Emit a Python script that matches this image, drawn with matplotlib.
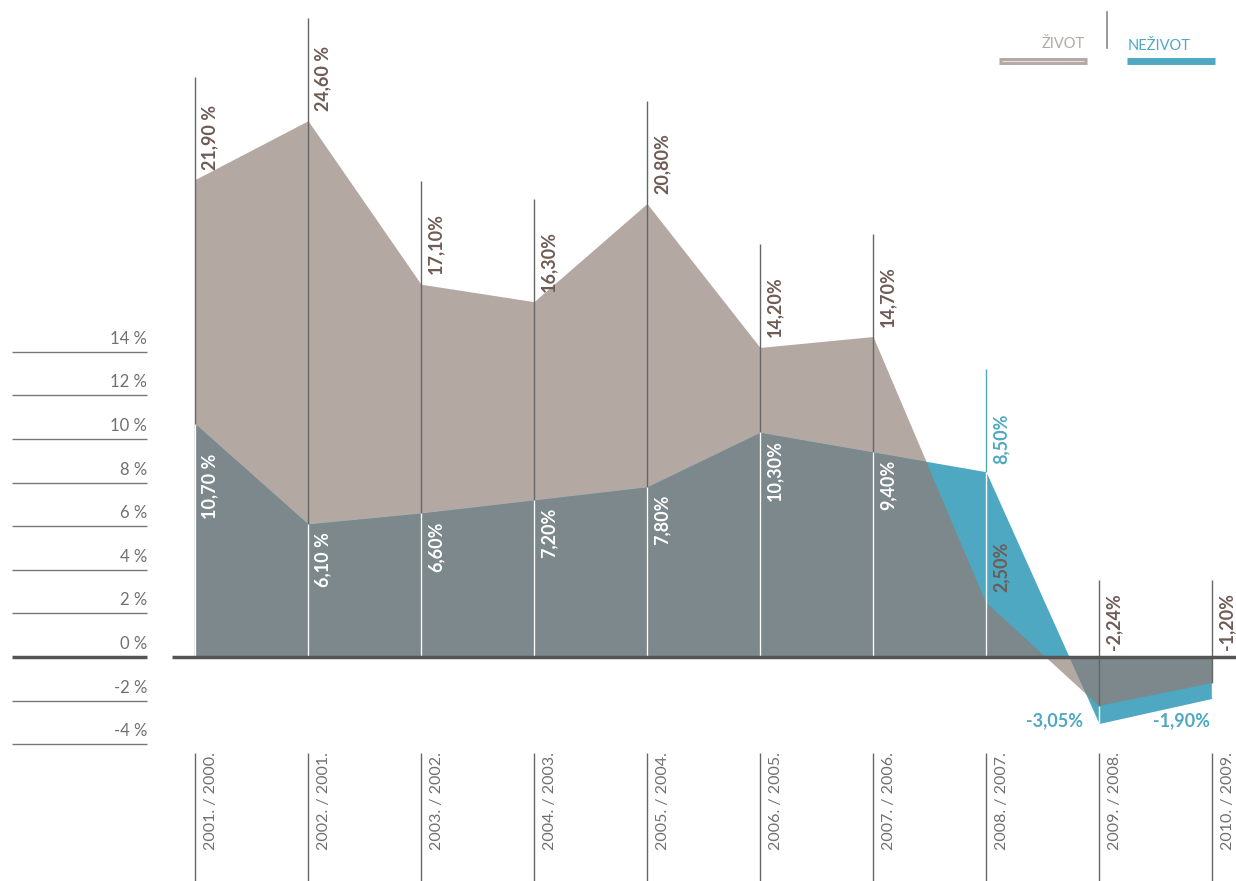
import numpy as np
import matplotlib as mpl
mpl.use('Agg')
import matplotlib.pyplot as plt

# data
years = ['2001. / 2000.', '2002. / 2001.', '2003. / 2002.', '2004. / 2003.',
         '2005. / 2004.', '2006. / 2005.', '2007. / 2006.', '2008. / 2007.',
         '2009. / 2008.', '2010. / 2009.']
zivot = [21.90, 24.60, 17.10, 16.30, 20.80, 14.20, 14.70, 2.50, -2.24, -1.20]
nezivot = [10.70, 6.10, 6.60, 7.20, 7.80, 10.30, 9.40, 8.50, -3.05, -1.90]
zivot_txt = ['21,90 %', '24,60 %', '17,10%', '16,30%', '20,80%', '14,20%',
             '14,70%', '2,50%', '-2,24%', '-1,20%']
nezivot_txt = ['10,70 %', '6,10 %', '6,60%', '7,20%', '7,80%', '10,30%',
               '9,40%', '8,50%', '-3,05%', '-1,90%']
yticks = [-4, -2, 0, 2, 4, 6, 8, 10, 12, 14]

# colours
TAUPE = '#b4a8a3'
TEAL = '#4ea8c2'
GRAY = '#7c888b'
BROWN = '#6e5b55'
TXT = '#707070'
LINE = '#666666'

plt.rcParams['font.family'] = ['Lato', 'DejaVu Sans']

W, H = 1236, 881
PX = 21.8            # pixels per percent
X0, DX = 195, 113    # first year position, spacing (px)
Y0 = 657             # zero line (px from top)

fig = plt.figure(figsize=(W / 100, H / 100), dpi=100)
ax = fig.add_axes([0, 0, 1, 1])
ax.set_xlim(-X0 / DX, (W - X0) / DX)
ax.set_ylim(-(H - Y0) / PX, Y0 / PX)
ax.axis('off')


def px(x):
    return (x - X0) / DX


def py(y):
    return (Y0 - y) / PX


x = np.arange(len(years))

# areas: taupe, teal, and the overlap in gray
zpoly = ax.fill_between(x, zivot, 0, color=TAUPE, lw=0, zorder=1)
ax.fill_between(x, nezivot, 0, color=TEAL, lw=0, zorder=1)
over = ax.fill_between(x, nezivot, 0, color=GRAY, lw=0, zorder=2)
over.set_clip_path(zpoly.get_paths()[0], ax.transData)

# vertical year lines
for i in x:
    z, n = zivot[i], nezivot[i]
    top = max(z, n, 0)
    off = 103 if top > 0 else 77
    col = TEAL if n > z else LINE
    ax.vlines(i, max(z, n) if n > z else 0, top + off / PX, color=col, lw=1, zorder=3)
    if n > z:
        ax.vlines(i, 0, z, color=LINE, lw=1, zorder=3)
    if z >= 0:
        ax.vlines(i, 0, n, color='white', lw=1, zorder=3)
    else:
        ax.vlines(i, 0, z, color=LINE, lw=1, zorder=3)
        ax.vlines(i, z, n, color='white', lw=1, zorder=3)
    ax.vlines(i, py(753), py(H), color=LINE, lw=1, zorder=3)
    ax.text(i + px(X0 + 16), py(850), years[i], rotation=90, ha='center', va='bottom',
            fontsize=11.5, color=TXT)

# value labels
lab = dict(fontsize=13, fontweight='bold', zorder=5, textcoords='offset pixels')
for i in x:
    z, n = zivot[i], nezivot[i]
    if z >= 0:
        ax.annotate(zivot_txt[i], (i, z), xytext=(15, 10), rotation=90,
                    ha='center', va='bottom', color=BROWN, **lab)
    else:
        ax.annotate(zivot_txt[i], (i, 0), xytext=(15, 7), rotation=90,
                    ha='center', va='bottom', color=BROWN, **lab)
    if i < 7:
        dy = -30 if i == 0 else -8
        ax.annotate(nezivot_txt[i], (i, n), xytext=(15, dy), rotation=90,
                    ha='center', va='top', color='white', **lab)
    elif i == 7:
        ax.annotate(nezivot_txt[i], (i, n), xytext=(15, 8), rotation=90,
                    ha='center', va='bottom', color=TEAL, **lab)
    elif i == 8:
        ax.annotate(nezivot_txt[i], (i, n), xytext=(-16, 3),
                    ha='right', va='center', color=TEAL, **lab)
    else:
        ax.annotate(nezivot_txt[i], (i, n), xytext=(-2, -22),
                    ha='right', va='center', color=TEAL, **lab)

# y axis scale at the left
for t in yticks:
    lw = 2.5 if t == 0 else 1
    col = '#555555' if t == 0 else '#777777'
    ax.plot([px(12), px(147)], [t, t], color=col, lw=lw, solid_capstyle='butt')
    ax.text(px(147), t + 5 / PX, f'{t} %', ha='right', va='bottom',
            fontsize=12, color=TXT)
ax.plot([px(172), px(W)], [0, 0], color='#555555', lw=2.5, zorder=4,
        solid_capstyle='butt')

# legend
fig.text(1085 / W, 1 - 44 / H, 'ŽIVOT', ha='right', va='center', fontsize=10.5,
         color=TAUPE)
fig.text(1128 / W, 1 - 46 / H, 'NEŽIVOT', ha='left', va='center', fontsize=10.5,
         color=TEAL)
fig.add_artist(plt.Line2D([999 / W, 1087 / W], [1 - 60.5 / H] * 2, color=TAUPE, lw=5,
                          solid_capstyle='butt'))
fig.add_artist(plt.Line2D([1002 / W, 1084 / W], [1 - 61 / H] * 2, color='#e6e0dd', lw=0.8,
                          solid_capstyle='butt'))
fig.add_artist(plt.Line2D([1127 / W, 1215 / W], [1 - 60.5 / H] * 2, color=TEAL, lw=5,
                          solid_capstyle='butt'))
fig.add_artist(plt.Line2D([1107 / W, 1107 / W], [1 - 12 / H, 1 - 48 / H], color='#888888',
                          lw=1.2))

fig.savefig('out.png', dpi=100)
